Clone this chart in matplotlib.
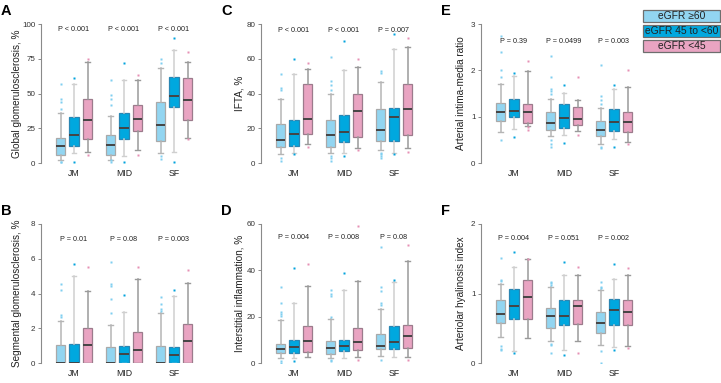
import matplotlib
matplotlib.use('Agg')
import matplotlib.pyplot as plt
from matplotlib.patches import Rectangle

plt.rcParams['font.family'] = ['Liberation Sans', 'DejaVu Sans']

# Data
sites = ['JM', 'MID', 'SF']
groups = ['eGFR \u226560', 'eGFR 45 to <60', 'eGFR <45']

# (whisker low, q1, median, q3, whisker high) per site, per eGFR group
glob_stats = [
    [(2, 6, 12, 18, 36), (7, 12, 20, 33, 57), (8, 17, 31, 46, 73)],
    [(2, 6, 13, 20, 34), (5, 17, 25, 36, 60), (9, 23, 32, 42, 60)],
    [(7, 16, 27, 44, 68), (8, 40, 48, 62, 81), (18, 31, 45, 61, 73)],
]
glob_fliers = [
    [[0.5, 1, 39, 44, 46, 57], [1, 61], [6, 75]],
    [[1, 2, 42, 46, 49, 60], [1, 72], [6, 63]],
    [[3, 5, 72, 75], [1, 90], [17, 80]],
]
glob_p = ['P < 0.001', 'P < 0.001', 'P < 0.001']

seg_stats = [
    [(0, 0, 0, 1.06, 2.4), (0, 0, 0, 1.1, 5.0), (0, 0, 1.06, 2.04, 4.17)],
    [(0, 0, 0, 0.9, 2.2), (0, 0, 0.5, 0.95, 2.95), (0, 0, 0.75, 1.8, 4.85)],
    [(0, 0, 0, 1.0, 2.85), (0, 0, 0.45, 0.9, 3.85), (0, 0, 1.25, 2.25, 4.6)],
]
seg_fliers = [
    [[2.65, 2.75, 4.2, 4.55], [5.67], [5.5]],
    [[2.9, 3.7, 4.45, 4.55, 5.8], [3.9], [5.55]],
    [[3.0, 3.1, 3.4, 3.8], [4.2], [5.35]],
]
seg_p = ['P = 0.01', 'P = 0.08', 'P = 0.003']

ifta_stats = [
    [(5, 9, 13, 22.5, 37), (6, 10, 16.5, 25, 51), (11, 16.5, 25.5, 45.5, 54)],
    [(6, 9, 16, 25, 40), (6, 12, 18, 27.5, 53.5), (8.5, 15, 30, 40, 55)],
    [(7.5, 12.5, 19, 31, 46.5), (5.5, 12.5, 26.5, 31.5, 65.5), (8.5, 16, 31, 45.5, 67)],
]
ifta_fliers = [
    [[1, 3, 42, 43, 51], [5, 60], [9, 57.5]],
    [[1, 3, 4, 42, 45, 47, 61], [4, 70], [7.5, 60]],
    [[3, 4, 5, 6, 52, 53], [5, 74], [6.5, 72]],
]
ifta_p = ['P < 0.001', 'P < 0.001', 'P = 0.007']

infl_stats = [
    [(2, 4.3, 5.9, 8.4, 18.4), (2.3, 4.3, 7, 10.1, 25.8), (2.5, 4.9, 9.7, 15.8, 33.3)],
    [(2, 4, 6.5, 9.5, 19), (2, 5, 7.5, 10, 31.5), (2.5, 5.5, 9, 15, 35.5)],
    [(3, 6, 7.5, 12.5, 23.5), (2.5, 6, 9, 16, 35), (2.5, 6.5, 11.5, 16.5, 44)],
]
infl_fliers = [
    [[0, 0.9, 20.3, 21.2, 21.9, 25.8, 32.6], [0.9, 40.9], [42.8]],
    [[1, 1.5, 20, 29, 30, 31.5], [39], [1.5, 59]],
    [[1.5, 25, 26, 31, 33, 50], [36], [1.5, 51]],
]
infl_p = ['P = 0.004', 'P = 0.008', 'P = 0.08']

imr_stats = [
    [(0.66, 0.91, 1.09, 1.30, 1.70), (0.74, 1.0, 1.12, 1.39, 1.88), (0.79, 0.87, 1.10, 1.27, 1.98)],
    [(0.58, 0.71, 0.87, 1.10, 1.38), (0.61, 0.75, 0.97, 1.27, 1.51), (0.68, 0.82, 0.94, 1.20, 1.36)],
    [(0.41, 0.58, 0.71, 0.90, 1.18), (0.51, 0.70, 0.89, 1.17, 1.59), (0.46, 0.66, 0.88, 1.09, 1.63)],
]
imr_fliers = [
    [[0.5, 1.85, 2.0, 2.4, 2.75], [0.57, 1.95], [0.72, 0.77, 2.2]],
    [[0.35, 0.4, 0.5, 1.5, 1.55, 1.6, 1.85, 2.3], [0.44, 1.69], [0.6, 1.85]],
    [[0.32, 0.35, 1.27, 1.35, 1.45, 2.12], [0.35, 1.68], [0.4, 2.01]],
]
imr_p = ['P = 0.39', 'P = 0.0499', 'P = 0.003']

hyal_stats = [
    [(0.37, 0.57, 0.71, 0.90, 1.14), (0.17, 0.64, 0.82, 1.06, 1.38), (0.36, 0.64, 0.95, 1.19, 1.49)],
    [(0.31, 0.51, 0.67, 0.79, 1.09), (0.19, 0.55, 0.67, 0.90, 1.26), (0.32, 0.56, 0.82, 0.91, 1.27)],
    [(0.26, 0.43, 0.58, 0.74, 1.05), (0.23, 0.54, 0.76, 0.92, 1.21), (0.25, 0.54, 0.73, 0.90, 1.27)],
]
hyal_fliers = [
    [[0.19, 0.2, 0.25, 1.18, 1.2, 1.51], [0.14, 1.6], [1.5]],
    [[0.15, 0.26, 0.28, 1.12, 1.15, 1.17], [0.11, 1.45], [0.15, 1.38]],
    [[0.0, 0.17, 1.08, 1.1, 1.17], [0.18, 1.42], [0.22, 1.36]],
]
hyal_p = ['P = 0.004', 'P = 0.051', 'P = 0.002']

# Styles
face = ['#92d5f1', '#00a8df', '#e9a4c2']
edge = ['#a9a9a9', '#2a86b3', '#9c7b8c']
whisk = ['#b5b5b5', '#cfcfcf', '#9a9a9a']
flier_col = ['#7fcff0', '#00a3dd', '#e690b5']

W, H = 721, 383


def draw_panel(left_px, top_px, letter, stats, fliers, pvals, ymax, yticks, ylabel, p_y, lab_px):
    ax = fig.add_axes([left_px / W, (H - top_px - 139) / H, 159 / W, 139 / H])
    for s in range(3):
        for g in range(3):
            lo, q1, med, q3, hi = stats[s][g]
            st = [dict(whislo=lo, q1=q1, med=med, q3=q3, whishi=hi, fliers=fliers[s][g])]
            ax.bxp(st, positions=[s + (g - 1) * 0.27], widths=0.19, patch_artist=True,
                   boxprops=dict(facecolor=face[g], edgecolor=edge[g], linewidth=0.9),
                   medianprops=dict(color='#444444', linewidth=1.4),
                   whiskerprops=dict(color=whisk[g], linewidth=1.1),
                   capprops=dict(color=whisk[g], linewidth=1.0),
                   capwidths=0.09,
                   flierprops=dict(marker='s', markersize=1.5, markerfacecolor=flier_col[g],
                                   markeredgecolor='none'))
        ax.text(s, p_y, pvals[s], ha='center', va='center', fontsize=5.2, color='#222222')
    ax.set_xlim(-0.66, 2.52)
    ax.set_ylim(0, ymax)
    ax.set_yticks(yticks)
    ax.set_xticks(range(3))
    ax.set_xticklabels(sites)
    for sp in ['top', 'right', 'bottom']:
        ax.spines[sp].set_visible(False)
    ax.spines['left'].set_color('#8a8a8a')
    ax.spines['left'].set_linewidth(0.8)
    ax.tick_params(axis='y', length=2.5, width=0.7, color='#8a8a8a', labelsize=5.8, pad=1.5,
                   labelcolor='#333333')
    ax.tick_params(axis='x', length=0, labelsize=6.3, pad=4.5, labelcolor='#222222')
    ax.set_ylabel(ylabel, fontsize=7.2, color='#222222')
    ax.yaxis.set_label_coords(-lab_px / 159, 0.5)
    ax.patch.set_visible(False)
    fig.text((left_px - 40) / W, 1 - (top_px - 9) / H, letter, fontsize=10.5,
             fontweight='bold', va='baseline', ha='left')
    return ax


fig = plt.figure(figsize=(W / 100, H / 100), dpi=100)

draw_panel(41, 24, 'A', glob_stats, glob_fliers, glob_p, 100, [0, 25, 50, 75, 100],
           'Global glomerulosclerosis, %', 96, 19)
draw_panel(41, 224, 'B', seg_stats, seg_fliers, seg_p, 8, [0, 2, 4, 6, 8],
           'Segmental glomerulosclerosis, %', 7.1, 19)
draw_panel(261, 24, 'C', ifta_stats, ifta_fliers, ifta_p, 80, [0, 20, 40, 60, 80],
           'IFTA, %', 76, 16)
draw_panel(261, 224, 'D', infl_stats, infl_fliers, infl_p, 60, [0, 20, 40, 60],
           'Interstitial inflammation, %', 54, 16)
draw_panel(481, 24, 'E', imr_stats, imr_fliers, imr_p, 3, [0, 1, 2, 3],
           'Arterial intima-media ratio', 2.62, 15)
draw_panel(481, 224, 'F', hyal_stats, hyal_fliers, hyal_p, 2, [0, 1, 2],
           'Arteriolar hyalinosis index', 1.79, 15)

# Legend boxes
rows_top = [10, 25, 40]
for g in range(3):
    y0 = (H - rows_top[g] - 11.5) / H
    fig.patches.append(Rectangle((643 / W, y0), 77 / W, 11.5 / H, transform=fig.transFigure,
                                 facecolor=face[g], edgecolor='#6e6e6e', linewidth=0.9))
    fig.text(681.5 / W, y0 + 5.75 / H, groups[g], ha='center', va='center', fontsize=7.4,
             color='#222222')

fig.savefig('out.png', dpi=100)
